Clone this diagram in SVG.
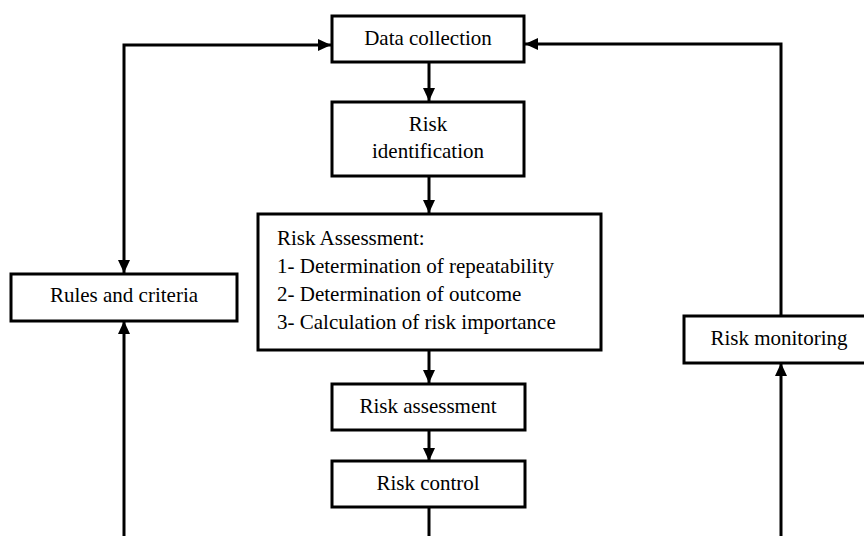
<svg xmlns="http://www.w3.org/2000/svg" width="864" height="536" viewBox="0 0 864 536">
<style>
.box{fill:#fff;stroke:#000;stroke-width:3}
.lbl{font-family:"Liberation Serif","Times New Roman",serif;font-size:21px;fill:#000}
.c{text-anchor:middle}
.conn{fill:none;stroke:#000;stroke-width:3}
</style>
<defs>
<marker id="ah" markerUnits="userSpaceOnUse" markerWidth="13" markerHeight="12" viewBox="0 0 13 12" refX="13" refY="6" orient="auto">
<path d="M0,0 L13,6 L0,12 Z" fill="#000"/>
</marker>
</defs>
<rect width="864" height="536" fill="#fff"/>
<g id="connectors">
<path class="conn" d="M429,62 V101" marker-end="url(#ah)"/>
<path class="conn" d="M429,176 V213" marker-end="url(#ah)"/>
<path class="conn" d="M429,350 V383" marker-end="url(#ah)"/>
<path class="conn" d="M429,430 V461" marker-end="url(#ah)"/>
<path class="conn" d="M429,507 V536"/>
<path class="conn" d="M124,273 V45 H331" marker-end="url(#ah)" marker-start="url(#ahs)"/>
<path class="conn" d="M124,536 V321" marker-end="url(#ah)"/>
<path class="conn" d="M781,316 V44 H525" marker-end="url(#ah)"/>
<path class="conn" d="M781,536 V363" marker-end="url(#ah)"/>
</g>
<defs>
<marker id="ahs" markerUnits="userSpaceOnUse" markerWidth="13" markerHeight="12" viewBox="0 0 13 12" refX="13" refY="6" orient="auto-start-reverse">
<path d="M0,0 L13,6 L0,12 Z" fill="#000"/>
</marker>
</defs>
<g id="data-collection">
<rect class="box" x="332" y="16" width="192" height="46"/>
<text class="lbl c" x="428" y="45">Data collection</text>
</g>
<g id="risk-identification">
<rect class="box" x="332" y="102" width="192" height="74"/>
<text class="lbl c" x="428" y="131">Risk</text>
<text class="lbl c" x="428" y="158">identification</text>
</g>
<g id="risk-assessment-steps">
<rect class="box" x="258" y="214" width="343" height="136"/>
<text class="lbl" x="277" y="245">Risk Assessment:</text>
<text class="lbl" x="277" y="273">1- Determination of repeatability</text>
<text class="lbl" x="277" y="301">2- Determination of outcome</text>
<text class="lbl" x="277" y="329">3- Calculation of risk importance</text>
</g>
<g id="risk-assessment">
<rect class="box" x="332" y="384" width="193" height="46"/>
<text class="lbl c" x="428" y="413">Risk assessment</text>
</g>
<g id="risk-control">
<rect class="box" x="332" y="461" width="193" height="46"/>
<text class="lbl c" x="428" y="490">Risk control</text>
</g>
<g id="rules-and-criteria">
<rect class="box" x="11" y="274" width="226" height="47"/>
<text class="lbl c" x="124" y="302">Rules and criteria</text>
</g>
<g id="risk-monitoring">
<rect class="box" x="684" y="316" width="184" height="47"/>
<text class="lbl c" x="779" y="345">Risk monitoring</text>
</g>
</svg>
